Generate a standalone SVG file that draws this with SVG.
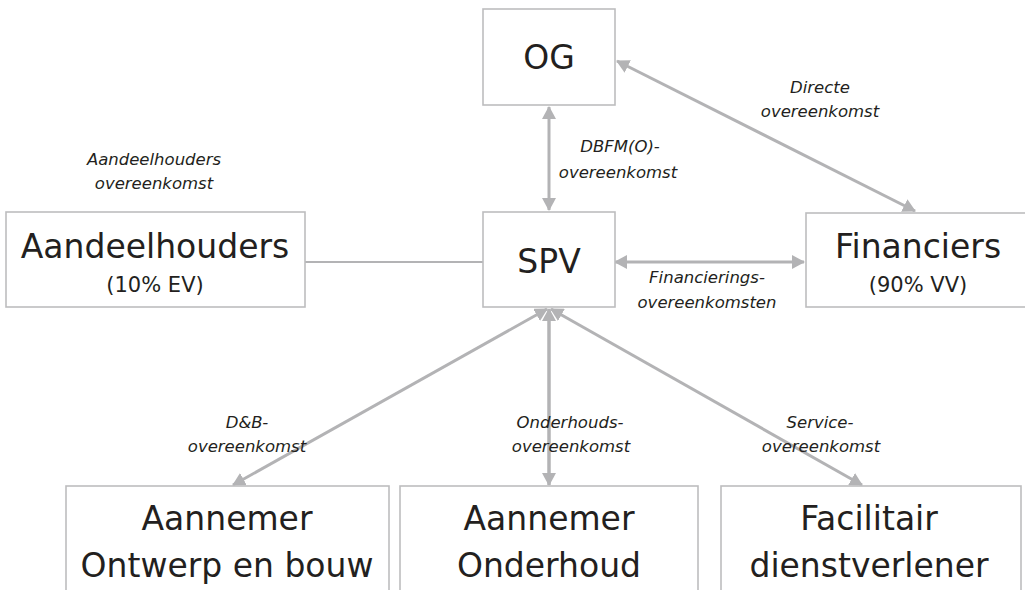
<svg xmlns="http://www.w3.org/2000/svg" width="1025" height="590" viewBox="0 0 1025 590">
<style>
.box{fill:#ffffff;stroke:#bdbdbf;stroke-width:1.6}
.t{font-family:"DejaVu Sans",Verdana,sans-serif;fill:#231f20;text-anchor:middle}
.big{font-size:33px}
.mid{font-size:21px}
.lbl{font-family:"DejaVu Sans",Verdana,sans-serif;font-style:italic;font-size:16.5px;fill:#231f20;text-anchor:middle}
.con{stroke:#b3b3b5;stroke-width:3;fill:none}
</style>
<defs>
<marker id="ah" markerUnits="userSpaceOnUse" markerWidth="13" markerHeight="14" refX="12" refY="7" orient="auto-start-reverse" viewBox="0 0 13 14">
<path d="M0,0 L13,7 L0,14 z" fill="#b3b3b5"/>
</marker>
</defs>
<rect width="1025" height="590" fill="#ffffff"/>
<g id="connectors">
<line class="con" x1="305" y1="262" x2="483" y2="262" style="stroke-width:1.8"/>
<line class="con" x1="549" y1="107" x2="549" y2="210" marker-start="url(#ah)" marker-end="url(#ah)"/>
<line class="con" x1="617" y1="61" x2="915" y2="211" marker-start="url(#ah)" marker-end="url(#ah)"/>
<line class="con" x1="615" y1="262" x2="804" y2="262" marker-start="url(#ah)" marker-end="url(#ah)"/>
<line class="con" x1="549" y1="309" x2="549" y2="485" style="stroke-width:3.5" marker-start="url(#ah)" marker-end="url(#ah)"/>
<line class="con" x1="547" y1="309" x2="233" y2="485" marker-start="url(#ah)" marker-end="url(#ah)"/>
<line class="con" x1="551" y1="309" x2="862" y2="485" marker-start="url(#ah)" marker-end="url(#ah)"/>
</g>
<g id="labels">
<text class="lbl" x="154" y="165">Aandeelhouders</text>
<text class="lbl" x="154" y="189">overeenkomst</text>
<text class="lbl" x="620" y="152">DBFM(O)-</text>
<text class="lbl" x="618" y="178">overeenkomst</text>
<text class="lbl" x="820" y="93">Directe</text>
<text class="lbl" x="820" y="117">overeenkomst</text>
<text class="lbl" x="707" y="283">Financierings-</text>
<text class="lbl" x="707" y="308">overeenkomsten</text>
<text class="lbl" x="247" y="428">D&amp;B-</text>
<text class="lbl" x="247" y="452">overeenkomst</text>
<text class="lbl" x="570" y="428">Onderhouds-</text>
<text class="lbl" x="571" y="452">overeenkomst</text>
<text class="lbl" x="820" y="428">Service-</text>
<text class="lbl" x="821" y="452">overeenkomst</text>
</g>
<g id="node-og">
<rect class="box" x="483" y="9" width="132" height="96"/>
<text class="t big" x="549" y="69">OG</text>
</g>
<g id="node-aandeelhouders">
<rect class="box" x="6" y="212" width="299" height="95"/>
<text class="t big" x="155" y="258">Aandeelhouders</text>
<text class="t mid" x="155" y="292">(10% EV)</text>
</g>
<g id="node-spv">
<rect class="box" x="483" y="212" width="132" height="95"/>
<text class="t big" x="549" y="273">SPV</text>
</g>
<g id="node-financiers">
<rect class="box" x="806" y="213" width="226" height="94"/>
<text class="t big" x="918" y="258">Financiers</text>
<text class="t mid" x="918" y="292">(90% VV)</text>
</g>
<g id="node-aannemer-ob">
<rect class="box" x="66" y="486" width="323" height="110"/>
<text class="t big" x="227" y="530">Aannemer</text>
<text class="t big" x="227" y="577">Ontwerp en bouw</text>
</g>
<g id="node-aannemer-oh">
<rect class="box" x="400" y="486" width="298" height="110"/>
<text class="t big" x="549" y="530">Aannemer</text>
<text class="t big" x="549" y="577">Onderhoud</text>
</g>
<g id="node-facilitair">
<rect class="box" x="721" y="486" width="300" height="110"/>
<text class="t big" x="869" y="530">Facilitair</text>
<text class="t big" x="869" y="577">dienstverlener</text>
</g>
</svg>
